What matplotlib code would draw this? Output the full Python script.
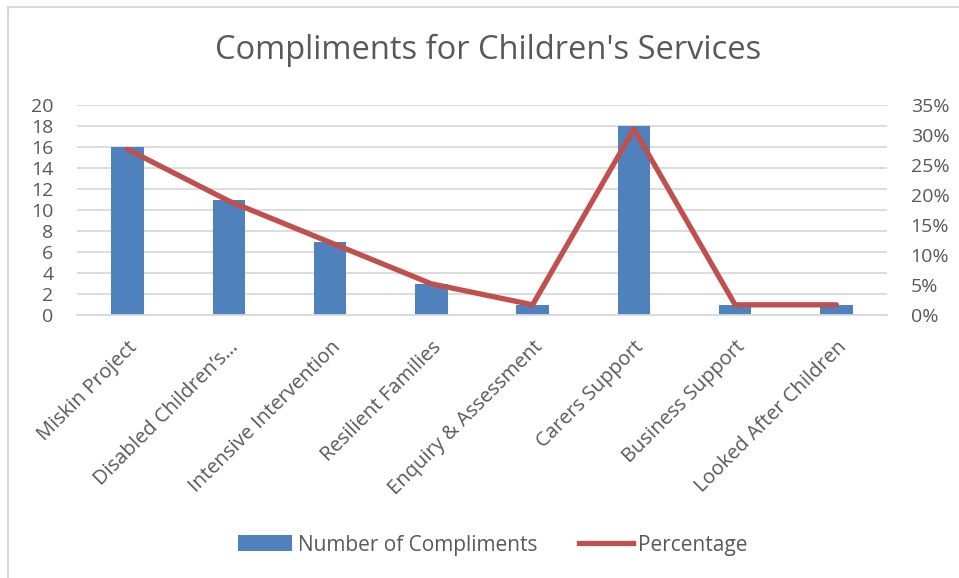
import matplotlib
matplotlib.use("Agg")
import matplotlib.pyplot as plt
from matplotlib.lines import Line2D
from matplotlib.patches import Patch

categories = ["Miskin Project", "Disabled Children\u2019s\u2026", "Intensive Intervention",
              "Resilient Families", "Enquiry & Assessment", "Carers Support",
              "Business Support", "Looked After Children"]
compliments = [16, 11, 7, 3, 1, 18, 1, 1]
percentage = [27.6, 19.0, 12.1, 5.2, 1.7, 31.0, 1.7, 1.7]
left_ticks = list(range(0, 21, 2))
right_ticks = list(range(0, 36, 5))

FONT = "Open Sans"
GRAY = "#595959"
BLUE = "#4F81BD"
RED = "#C0504D"

fig = plt.figure(figsize=(9.59, 5.78), dpi=100)
W, H = 959, 578
ax = fig.add_axes([77 / W, 1 - 315 / H, (887 - 77) / W, (315 - 105) / H])
ax2 = ax.twinx()

x = list(range(len(categories)))
ax.bar(x, compliments, width=0.32, color=BLUE, zorder=2)
ax.set_xlim(-0.5, len(categories) - 0.5)
ax.set_ylim(0, 20)
ax.set_yticks(left_ticks)
ax.set_yticklabels([str(t) for t in left_ticks], fontname=FONT, fontsize=14, color=GRAY)
ax.yaxis.grid(True, color="#D9D9D9", linewidth=1.3, zorder=0)
ax.set_axisbelow(True)
ax.set_xticks(x)
ax.set_xticklabels(categories, rotation=45, ha="right", rotation_mode="anchor",
                   fontname=FONT, fontsize=14.5, color=GRAY)
ax.tick_params(axis="y", length=0, pad=17)
ax.tick_params(axis="x", length=0, pad=16)
for s in ax.spines.values():
    s.set_visible(False)
ax.spines["bottom"].set_visible(True)
ax.spines["bottom"].set_color("#D9D9D9")
ax.spines["bottom"].set_linewidth(1.3)

ax2.plot(x, percentage, color=RED, linewidth=3.8, solid_capstyle="round", zorder=3)
ax2.set_ylim(0, 35)
ax2.set_yticks(right_ticks)
ax2.set_yticklabels([f"{t}%" for t in right_ticks], fontname=FONT, fontsize=14, color=GRAY)
ax2.tick_params(axis="y", length=0, pad=17)
for s in ax2.spines.values():
    s.set_visible(False)

fig.text(488 / W, 1 - 50 / H, "Compliments for Children's Services", ha="center", va="center",
         fontname=FONT, fontsize=23.5, color=GRAY)

handles = [Patch(facecolor=BLUE, edgecolor="none"),
           Line2D([0], [0], color=RED, linewidth=3.8)]
leg = fig.legend(handles, ["Number of Compliments", "Percentage"], loc="center",
                 bbox_to_anchor=(493 / W, 1 - 545 / H), ncol=2, frameon=False,
                 prop={"family": FONT, "size": 15}, handlelength=2.6, handleheight=0.8,
                 columnspacing=2.0, handletextpad=0.25)
for t in leg.get_texts():
    t.set_color(GRAY)

# chart border (partially visible)
fig.add_artist(Line2D([7.5 / W, 7.5 / W], [0, 1 - 6.5 / H], color="#D9D9D9", linewidth=1.5,
                      transform=fig.transFigure))
fig.add_artist(Line2D([7.5 / W, 1], [1 - 6.5 / H, 1 - 6.5 / H], color="#D9D9D9", linewidth=1.5,
                      transform=fig.transFigure))

fig.savefig("out.png", dpi=100)
